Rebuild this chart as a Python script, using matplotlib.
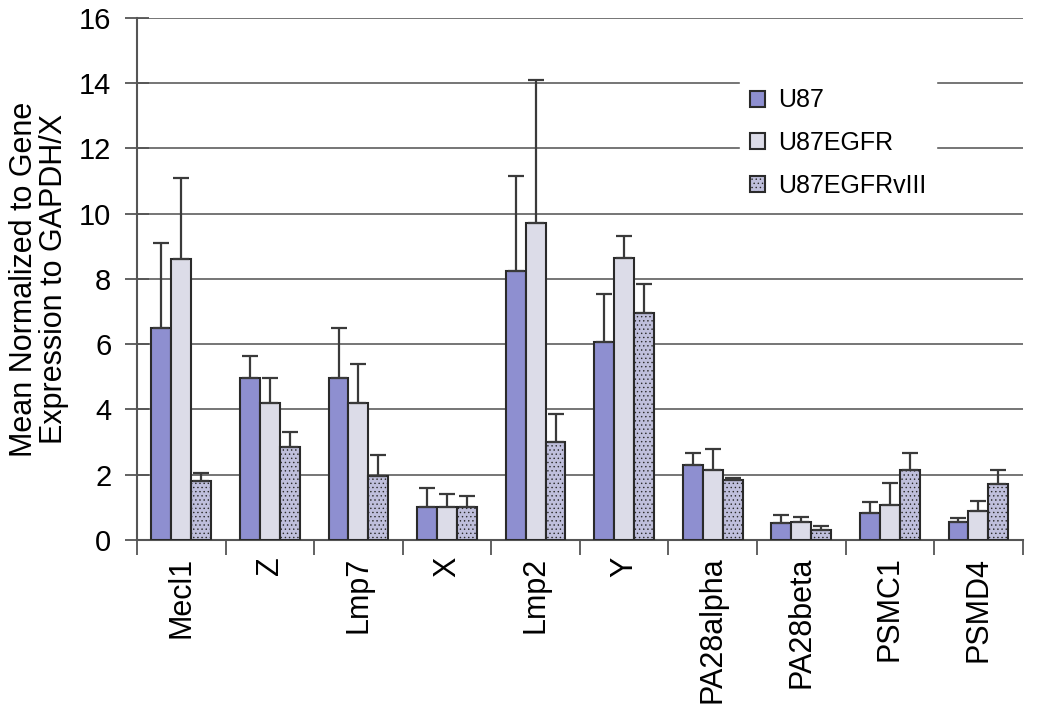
import numpy as np
import matplotlib
matplotlib.use("Agg")
import matplotlib.pyplot as plt

plt.rcParams['font.family'] = ['Liberation Sans', 'DejaVu Sans']
plt.rcParams['hatch.color'] = '#a6a6c6'
plt.rcParams['hatch.linewidth'] = 0.5

genes = ['Mecl1', 'Z', 'Lmp7', 'X', 'Lmp2', 'Y', 'PA28alpha', 'PA28beta', 'PSMC1', 'PSMD4']
series = ['U87', 'U87EGFR', 'U87EGFRvIII']

u87 = [6.5, 4.95, 4.95, 1.0, 8.25, 6.05, 2.3, 0.52, 0.83, 0.55]
u87_err = [2.6, 0.7, 1.55, 0.6, 2.9, 1.5, 0.35, 0.25, 0.33, 0.12]
egfr = [8.6, 4.2, 4.2, 1.0, 9.7, 8.65, 2.15, 0.55, 1.07, 0.89]
egfr_err = [2.5, 0.75, 1.2, 0.4, 4.4, 0.65, 0.65, 0.15, 0.68, 0.31]
viii = [1.8, 2.85, 1.95, 1.0, 3.0, 6.95, 1.85, 0.3, 2.15, 1.7]
viii_err = [0.25, 0.45, 0.65, 0.35, 0.85, 0.9, 0.05, 0.12, 0.5, 0.45]

colors = ['#8e8fd0', '#dcdce8', '#bfbfdc']
hatches = [None, None, '....']
fs = 22

fig = plt.figure(figsize=(10.5, 7.16), dpi=100)
ax = fig.add_axes([0.1305, 0.246, 0.8435, 0.729])

x = np.arange(len(genes))
w = 0.225
vals = [u87, egfr, viii]
errs = [u87_err, egfr_err, viii_err]
for i in range(3):
    ax.bar(x + (i - 1) * w, vals[i], w, color=colors[i], edgecolor='#2a2a2a',
           linewidth=1.5, hatch=hatches[i], label=series[i], zorder=3,
           yerr=[np.zeros(len(genes)), errs[i]],
           error_kw=dict(ecolor='#3a3a3a', elinewidth=1.6, capsize=6, capthick=1.6, zorder=4))

ax.set_xlim(-0.5, len(genes) - 0.5)
ax.set_ylim(0, 16)
ax.set_yticks(range(0, 17, 2))
ax.yaxis.grid(True, color='#6a6a6a', linewidth=1.3, zorder=0)
ax.set_axisbelow(True)

ax.set_xticks(x)
ax.set_xticklabels(genes, rotation=90, fontsize=fs)
ax.set_xticks(np.arange(-0.5, len(genes) - 0.4, 1), minor=True)
ax.tick_params(axis='x', which='major', length=0, pad=12)
ax.tick_params(axis='x', which='minor', length=11, width=1.3, color='#555555', direction='out')
ax.tick_params(axis='y', labelsize=21, length=17, width=1.3, color='#555555', direction='inout', pad=10)

for s in ['top', 'right']:
    ax.spines[s].set_visible(False)
ax.spines['left'].set_color('#555555')
ax.spines['left'].set_linewidth(1.5)
ax.spines['bottom'].set_color('#555555')
ax.spines['bottom'].set_linewidth(1.5)

ax.set_ylabel('Mean Normalized to Gene\nExpression to GAPDH/X', fontsize=fs, labelpad=7,
              linespacing=1.0)

leg = ax.legend(loc='upper left', bbox_to_anchor=(0.667, 0.908), frameon=True, fontsize=18,
                labelspacing=0.75, handlelength=0.6, handleheight=0.6, handletextpad=0.5,
                borderpad=0.4, fancybox=False)
leg.get_frame().set_edgecolor('white')
leg.get_frame().set_facecolor('white')
leg.get_frame().set_alpha(1)

fig.savefig('out.png', dpi=100)
